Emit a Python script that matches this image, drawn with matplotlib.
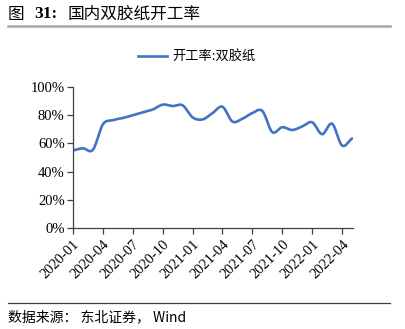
import numpy as np
import matplotlib
matplotlib.use("Agg")
import matplotlib.pyplot as plt
from matplotlib.lines import Line2D

# Monthly operating rate of domestic offset paper, 2020-01 .. 2022-05 (%)
months = [
    "2020-01", "2020-02", "2020-03", "2020-04", "2020-05", "2020-06", "2020-07",
    "2020-08", "2020-09", "2020-10", "2020-11", "2020-12", "2021-01", "2021-02",
    "2021-03", "2021-04", "2021-05", "2021-06", "2021-07", "2021-08", "2021-09",
    "2021-10", "2021-11", "2021-12", "2022-01", "2022-02", "2022-03", "2022-04",
    "2022-05",
]
rate = [
    55.0, 56.5, 55.5, 73.5, 76.5, 78.0, 80.0,
    82.0, 84.0, 87.5, 86.5, 87.0, 78.5, 77.0,
    81.5, 86.0, 75.5, 77.5, 81.5, 83.0, 68.0,
    71.5, 69.5, 72.0, 75.0, 66.5, 74.0, 58.5,
    63.5,
]
tick_labels = ["2020-01", "2020-04", "2020-07", "2020-10", "2021-01",
               "2021-04", "2021-07", "2021-10", "2022-01", "2022-04"]
y_ticks = [0, 20, 40, 60, 80, 100]

CJK = ["Noto Sans CJK SC", "DejaVu Sans"]
SERIF = ["Liberation Serif", "DejaVu Serif"]
BLUE = "#4472C4"


def smooth(x, y, n=12):
    """Catmull-Rom style smoothed polyline through the points."""
    x = np.asarray(x, float)
    y = np.asarray(y, float)
    px = np.concatenate([[2 * x[0] - x[1]], x, [2 * x[-1] - x[-2]]])
    py = np.concatenate([[2 * y[0] - y[1]], y, [2 * y[-1] - y[-2]]])
    xs, ys = [], []
    t = np.linspace(0, 1, n, endpoint=False)
    for i in range(1, len(px) - 2):
        p0, p1, p2, p3 = py[i - 1], py[i], py[i + 1], py[i + 2]
        q0, q1, q2, q3 = px[i - 1], px[i], px[i + 1], px[i + 2]
        def cr(a0, a1, a2, a3):
            return 0.5 * ((2 * a1) + (-a0 + a2) * t
                          + (2 * a0 - 5 * a1 + 4 * a2 - a3) * t ** 2
                          + (-a0 + 3 * a1 - 3 * a2 + a3) * t ** 3)
        xs.append(cr(q0, q1, q2, q3))
        ys.append(cr(p0, p1, p2, p3))
    xs.append([x[-1]])
    ys.append([y[-1]])
    return np.concatenate(xs), np.concatenate(ys)


fig = plt.figure(figsize=(4.05, 3.29), dpi=100)
ax = fig.add_axes([73 / 405, 1 - 228 / 329, 280 / 405, 141 / 329])

xi = np.arange(len(months))
sx, sy = smooth(xi, rate)
ax.plot(sx, sy, color=BLUE, lw=1.9, solid_capstyle="round")

ax.set_xlim(0, len(months) - 1 + 0.1)
ax.set_ylim(0, 100)
ax.set_yticks(y_ticks)
ax.set_yticklabels([f"{v}%" for v in y_ticks], fontfamily=SERIF, fontsize=10.5)
pos = [months.index(m) for m in tick_labels]
ax.set_xticks(pos)
ax.set_xticklabels(tick_labels, rotation=45, ha="right", va="top",
                   rotation_mode="anchor", fontfamily=SERIF, fontsize=10.5)
for s in ("top", "right"):
    ax.spines[s].set_visible(False)
for s in ("left", "bottom"):
    ax.spines[s].set_color("#404040")
    ax.spines[s].set_linewidth(0.9)
ax.tick_params(axis="both", direction="out", length=4, width=0.9,
               color="#404040", pad=2)
ax.tick_params(axis="x", pad=3)

# Title block
fig.text(8 / 405, 1 - 14 / 329, "图", fontfamily=CJK, fontsize=12,
         va="center", ha="left")
fig.text(34 / 405, 1 - 14 / 329, "31:", fontfamily=SERIF, fontsize=12.5,
         fontweight="bold", va="center", ha="left")
fig.text(68 / 405, 1 - 14 / 329, "国内双胶纸开工率", fontfamily=CJK,
         fontsize=12, va="center", ha="left")
fig.add_artist(Line2D([8 / 405, 390 / 405], [1 - 26 / 329, 1 - 26 / 329],
                      color="#A6A6A6", lw=1.8, transform=fig.transFigure))

# Legend
fig.add_artist(Line2D([138 / 405, 167 / 405], [1 - 56 / 329, 1 - 56 / 329],
                      color=BLUE, lw=1.9, transform=fig.transFigure))
fig.text(172 / 405, 1 - 56 / 329, "开工率:双胶纸", fontfamily=CJK,
         fontsize=9.5, va="center", ha="left")

# Source note
fig.add_artist(Line2D([8 / 405, 390 / 405], [1 - 303 / 329, 1 - 303 / 329],
                      color="#404040", lw=0.9, transform=fig.transFigure))
fig.text(8 / 405, 1 - 317 / 329, "数据来源： 东北证券， Wind", fontfamily=CJK,
         fontsize=10, va="center", ha="left")

fig.savefig("out.png", dpi=100)
